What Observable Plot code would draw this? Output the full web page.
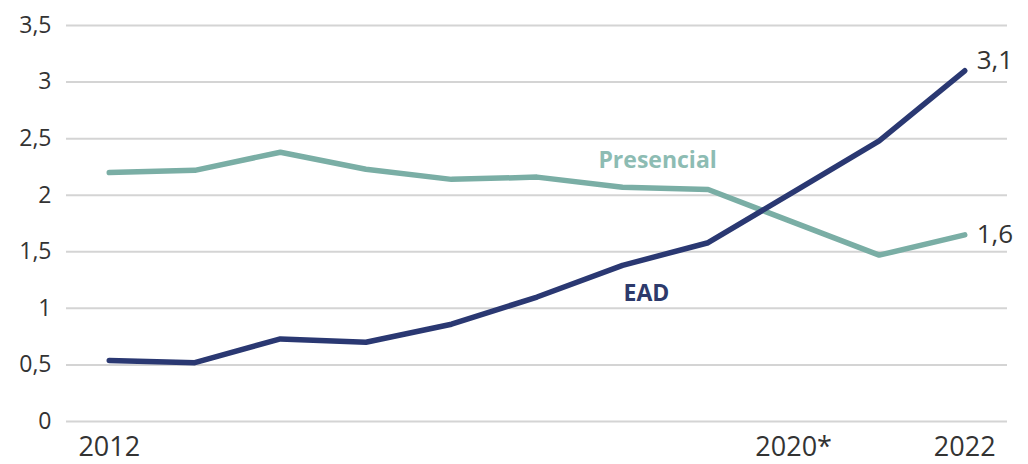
<!DOCTYPE html>
<html>
<head>
<meta charset="utf-8">
<script src="https://cdn.jsdelivr.net/npm/d3@7"></script>
<script src="https://cdn.jsdelivr.net/npm/@observablehq/plot@0.6"></script>
<style>
  html, body { margin: 0; padding: 0; background: #fff; }
  #chart svg { display: block; }
</style>
</head>
<body>
<div id="chart"></div>
<script>
const years = [2012, 2013, 2014, 2015, 2016, 2017, 2018, 2019, 2020, 2021, 2022];
const presencial = [2.20, 2.22, 2.38, 2.23, 2.14, 2.16, 2.07, 2.05, 1.76, 1.47, 1.65];
const ead = [0.54, 0.52, 0.73, 0.70, 0.86, 1.10, 1.38, 1.58, 2.03, 2.48, 3.10];
const yTicks = [0, 0.5, 1, 1.5, 2, 2.5, 3, 3.5];
const xTicks = [2012, 2020, 2022];
const xTickLabels = {2012: "2012", 2020: "2020*", 2022: "2022"};
const endLabels = ["1,6", "3,1"];
const seriesNames = ["Presencial", "EAD"];
const seriesLabelPos = [{x: 2018.41, y: 2.31}, {x: 2018.28, y: 1.13}];

const colors = {Presencial: "#7aaea5", EAD: "#2a3872"};
const labelColors = {Presencial: "#8dbcb3", EAD: "#2d3a6b"};

const rows = [];
years.forEach((yr, i) => {
  rows.push({series: "Presencial", year: yr, value: presencial[i]});
  rows.push({series: "EAD", year: yr, value: ead[i]});
});
const last = years.length - 1;
const ends = [
  {series: "Presencial", year: years[last], value: presencial[last], label: endLabels[0]},
  {series: "EAD", year: years[last], value: ead[last], label: endLabels[1]}
];
const names = seriesNames.map((s, i) => ({series: s, ...seriesLabelPos[i]}));

const font = "'Open Sans', sans-serif";

const chart = Plot.plot({
  width: 1028,
  height: 464,
  marginLeft: 66,
  marginRight: 21,
  marginTop: 25,
  marginBottom: 43,
  style: {fontFamily: font, background: "#fff"},
  x: {domain: [2011.5, 2022.5]},
  y: {domain: [0, 3.5]},
  marks: [
    Plot.ruleY(yTicks, {stroke: "#d4d4d4", strokeWidth: 2}),
    Plot.axisY(yTicks, {tickSize: 0, tickPadding: 15, fontSize: 23, fill: "#333",
      tickFormat: d => String(d).replace(".", ","), label: null}),
    Plot.axisX(xTicks, {tickSize: 0, tickPadding: 15, fontSize: 27, fill: "#333",
      tickFormat: d => xTickLabels[d], label: null}),
    Plot.line(rows.filter(d => d.series === "Presencial"), {x: "year", y: "value", stroke: colors.Presencial, strokeWidth: 5.5, strokeLinejoin: "miter", strokeLinecap: "round"}),
    Plot.line(rows.filter(d => d.series === "EAD"), {x: "year", y: "value", stroke: colors.EAD, strokeWidth: 5.5, strokeLinejoin: "miter", strokeLinecap: "round"}),
    Plot.text(ends.filter(d => d.series === "Presencial"), {x: "year", y: "value", text: "label", textAnchor: "start", dx: 12, dy: 0, fontSize: 26, fill: "#333"}),
    Plot.text(ends.filter(d => d.series === "EAD"), {x: "year", y: "value", text: "label", textAnchor: "start", dx: 12, dy: -10, fontSize: 26, fill: "#333"}),
    Plot.text(names, {x: "x", y: "y", text: "series", fontSize: 23, fontWeight: "bold",
      fill: d => labelColors[d.series]})
  ]
});
document.getElementById("chart").appendChild(chart);
</script>
</body>
</html>
